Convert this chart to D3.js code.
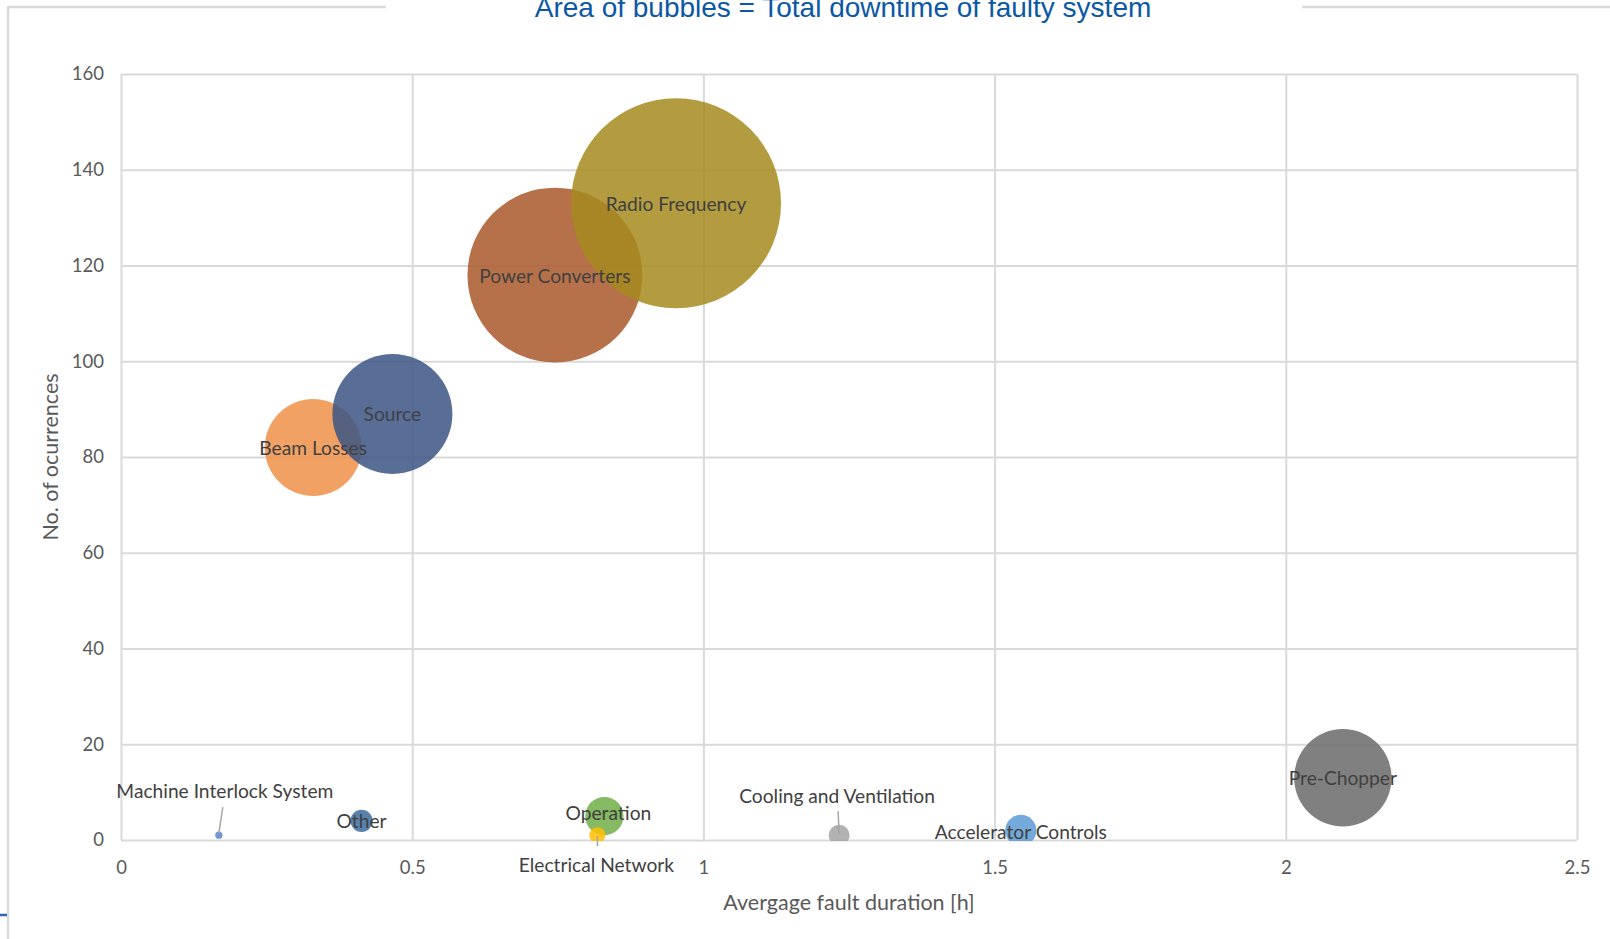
<!DOCTYPE html>
<html>
<head>
<meta charset="utf-8">
<script src="https://cdn.jsdelivr.net/npm/d3@7/dist/d3.min.js"></script>
<style>
  html, body { margin: 0; padding: 0; background: #ffffff; }
  svg { display: block; }
</style>
</head>
<body>
<svg id="chart" width="1610" height="939"></svg>
<script>
// Faulty systems: average fault duration [h], number of occurrences, total downtime [h]
const systems = [
  "Beam Losses", "Source", "Power Converters", "Radio Frequency", "Pre-Chopper",
  "Operation", "Electrical Network", "Accelerator Controls", "Cooling and Ventilation",
  "Other", "Machine Interlock System"
];
const avgDuration = [0.330, 0.466, 0.745, 0.953, 2.098, 0.830, 0.818, 1.545, 1.233, 0.413, 0.168];
const occurrences = [82, 89, 118, 133, 13, 5, 1, 2, 1, 4, 1];
const downtime    = [27.0, 41.4, 87.9, 126.8, 27.3, 4.2, 0.75, 2.8, 1.25, 1.4, 0.15];

const xTicks = [0, 0.5, 1, 1.5, 2, 2.5];
const xTickLabels = ["0", "0.5", "1", "1.5", "2", "2.5"];
const yTicks = [0, 20, 40, 60, 80, 100, 120, 140, 160];
const yTickLabels = ["0", "20", "40", "60", "80", "100", "120", "140", "160"];

const titleText = "Area of bubbles = Total downtime of faulty system";
const xTitle = "Avergage fault duration [h]";
const yTitle = "No. of ocurrences";

// Fill colours per system (drawn semi-transparent)
const colors = {
  "Radio Frequency": "#a68a1e",
  "Power Converters": "#a9582a",
  "Source": "#3b5584",
  "Beam Losses": "#ee9049",
  "Pre-Chopper": "#6a6a6a",
  "Operation": "#70ad47",
  "Accelerator Controls": "#5b9bd5",
  "Cooling and Ventilation": "#a5a5a5",
  "Other": "#3a6d9e",
  "Electrical Network": "#ffc000",
  "Machine Interlock System": "#5a84cc"
};

// Label placement tweaks; some labels sit away from their bubble with a leader line
const labelOffsets = {
  "Machine Interlock System": { dx: 6, dy: -45, leader: [4, -28, 0, -2] },
  "Cooling and Ventilation": { dx: -2, dy: -40, leader: [-1, -24, 0, -1] },
  "Electrical Network": { dx: -1, dy: 29, leader: [0, 1, 0, 11] },
  "Operation": { dx: 4, dy: -4 },
  "Accelerator Controls": { dx: 0, dy: 1 }
};

const svg = d3.select("#chart");
const W = 1610, H = 939;
const plot = { left: 121, right: 1577, top: 74, bottom: 840 };

const font = "Lato, 'Open Sans', sans-serif";

// Outer frame with a gap for the title
svg.append("path")
  .attr("d", `M8,${H} L8,7 L386,7 M1302,7 L${W},7`)
  .attr("fill", "none").attr("stroke", "#d9d9d9").attr("stroke-width", 2.5);
svg.append("line")
  .attr("x1", 0).attr("x2", 7).attr("y1", 915).attr("y2", 915)
  .attr("stroke", "#2f62b3").attr("stroke-width", 2.5);

svg.append("text")
  .attr("x", 843).attr("y", 17)
  .attr("text-anchor", "middle")
  .attr("font-family", "'Liberation Sans', Arial, sans-serif")
  .attr("font-size", 28)
  .attr("fill", "#0a58a6")
  .text(titleText);

const x = d3.scaleLinear().domain([0, 2.5]).range([plot.left, plot.right]);
const y = d3.scaleLinear().domain([0, 160]).range([plot.bottom, plot.top]);
const r = d3.scaleSqrt().domain([0, d3.max(downtime)]).range([0, 105]);

// Grid lines
const gridX = svg.append("g")
  .attr("transform", `translate(0,${plot.bottom})`)
  .call(d3.axisBottom(x).tickValues(xTicks).tickSize(-(plot.bottom - plot.top)).tickFormat(""));
const gridY = svg.append("g")
  .attr("transform", `translate(${plot.left},0)`)
  .call(d3.axisLeft(y).tickValues(yTicks).tickSize(-(plot.right - plot.left)).tickFormat(""));
[gridX, gridY].forEach(g => {
  g.select(".domain").remove();
  g.selectAll(".tick line").attr("stroke", "#d9d9d9").attr("stroke-width", 2);
});

// Tick labels
const axX = svg.append("g")
  .attr("transform", `translate(0,${plot.bottom})`)
  .call(d3.axisBottom(x).tickValues(xTicks).tickSize(0).tickPadding(21)
        .tickFormat((d, i) => xTickLabels[i]));
const axY = svg.append("g")
  .attr("transform", `translate(${plot.left},0)`)
  .call(d3.axisLeft(y).tickValues(yTicks).tickSize(0).tickPadding(17)
        .tickFormat((d, i) => yTickLabels[i]));
[axX, axY].forEach(g => {
  g.select(".domain").remove();
  g.selectAll("text").attr("font-family", font).attr("font-size", 18.5).attr("fill", "#595959");
});

// Axis titles
svg.append("text")
  .attr("x", (plot.left + plot.right) / 2).attr("y", 910)
  .attr("text-anchor", "middle")
  .attr("font-family", font).attr("font-size", 21.5).attr("fill", "#595959")
  .text(xTitle);
svg.append("text")
  .attr("transform", `translate(58,${(plot.top + plot.bottom) / 2}) rotate(-90)`)
  .attr("text-anchor", "middle")
  .attr("font-family", font).attr("font-size", 21.5).attr("fill", "#595959")
  .text(yTitle);

// Bubbles, clipped to the plot area
svg.append("clipPath").attr("id", "plotClip")
  .append("rect")
  .attr("x", plot.left).attr("y", plot.top - 200)
  .attr("width", plot.right - plot.left).attr("height", plot.bottom - plot.top + 201);

const rows = systems.map((name, i) => ({
  name, dur: avgDuration[i], occ: occurrences[i], down: downtime[i]
}));

svg.append("g").attr("clip-path", "url(#plotClip)")
  .selectAll("circle")
  .data(rows)
  .join("circle")
  .attr("cx", d => x(d.dur))
  .attr("cy", d => y(d.occ))
  .attr("r", d => r(d.down))
  .attr("fill", d => colors[d.name])
  .attr("fill-opacity", 0.85);

// Leader lines
svg.append("g")
  .selectAll("line")
  .data(rows.filter(d => labelOffsets[d.name] && labelOffsets[d.name].leader))
  .join("line")
  .attr("x1", d => x(d.dur) + labelOffsets[d.name].leader[0])
  .attr("y1", d => y(d.occ) + labelOffsets[d.name].leader[1])
  .attr("x2", d => x(d.dur) + labelOffsets[d.name].leader[2])
  .attr("y2", d => y(d.occ) + labelOffsets[d.name].leader[3])
  .attr("stroke", "#a6a6a6").attr("stroke-width", 1.5);

// Data labels
svg.append("g")
  .selectAll("text")
  .data(rows)
  .join("text")
  .attr("x", d => x(d.dur) + (labelOffsets[d.name] ? labelOffsets[d.name].dx : 0))
  .attr("y", d => y(d.occ) + (labelOffsets[d.name] ? labelOffsets[d.name].dy : 0))
  .attr("text-anchor", "middle")
  .attr("dominant-baseline", "central")
  .attr("font-family", font).attr("font-size", 19.2)
  .attr("fill", "#404040")
  .text(d => d.name);
</script>
</body>
</html>
